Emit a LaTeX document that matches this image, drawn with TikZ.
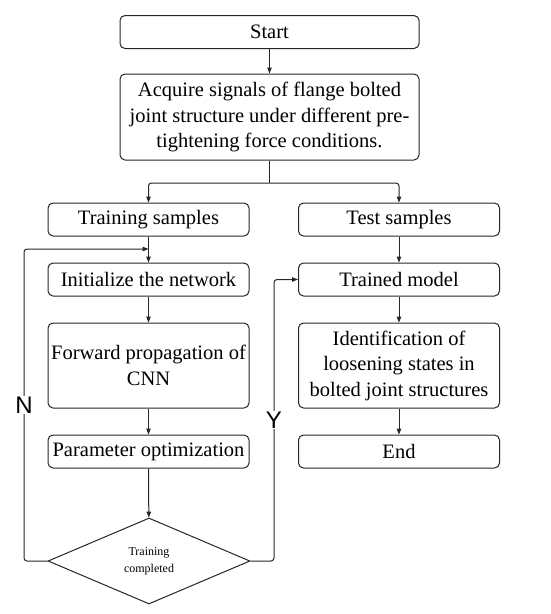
\documentclass[tikz,border=0pt]{standalone}
\usepackage{fontspec}
\setmainfont{Liberation Serif}
\newfontfamily\labelfont{Liberation Sans}
\usepackage{tikz}
\usetikzlibrary{positioning,shapes.geometric,arrows.meta}

\begin{document}
\begin{tikzpicture}[x=1pt,y=-1pt]
            \tikzstyle{every node}=[font=\fontsize{20.5}{25.5}\selectfont]
            \tikzstyle{procbox}=[draw=black!85, line width=1pt, rounded corners=5pt, align=center, inner sep=0pt]
            \tikzstyle{widebox}=[procbox, minimum width=299pt]
            \tikzstyle{halfbox}=[procbox, minimum width=201pt]
            \tikzstyle{flow}=[draw=black!85, line width=1pt, -{Triangle[length=6pt,width=4.5pt]}]
            \useasboundingbox (0,0) rectangle (550,614);
            % boxes
            \node [widebox, minimum height=33pt] (start) at (269.5,32) {Start};
            \node [widebox, minimum height=86pt] (acquire) at (269.5,117) {Acquire signals of flange bolted\\joint structure under different pre-\\tightening force conditions.};
            \node [halfbox, minimum height=33pt] (train) at (148.5,219.5) {Training samples};
            \node [halfbox, minimum height=33pt] (test) at (399,219.5) {Test samples};
            \node [halfbox, minimum height=33pt] (init) at (148.5,279.5) {Initialize the network};
            \node [halfbox, minimum height=33pt] (trained) at (399,279.5) {Trained model};
            \node [halfbox, minimum height=85pt] (forward) at (148.5,365.5) {Forward propagation of\\CNN};
            \node [halfbox, minimum height=85pt] (ident) at (399,365.5) {Identification of\\loosening states in\\bolted joint structures};
            \node [halfbox, minimum height=33pt] (param) at (148.5,451.5) {Parameter optimization};
            \node [halfbox, minimum height=33pt] (end) at (399,451.5) {End};
            \node [diamond, draw=black!85, line width=1pt, minimum width=202pt, minimum height=86pt, inner sep=0pt, align=center, font=\fontsize{12}{17}\selectfont] (check) at (149,561) {Training\\completed};
            % connectors
            \coordinate (split) at (269.5,183);
            \coordinate (loopin) at (148.5,249);
            \coordinate (nside) at (24,249);
            \coordinate (yside) at (274,279.5);
            \draw [flow] (start) -- (acquire);
            \draw [draw=black!85, line width=1pt] (acquire) -- (split);
            \draw [flow, rounded corners=3pt] (split) -| (train);
            \draw [flow, rounded corners=3pt] (split) -| (test);
            \draw [flow] (train) -- (init);
            \draw [flow] (init) -- (forward);
            \draw [flow] (forward) -- (param);
            \draw [flow] (param) -- (check);
            \draw [flow] (test) -- (trained);
            \draw [flow] (trained) -- (ident);
            \draw [flow] (ident) -- (end);
            \draw [flow, rounded corners=3pt] (check.west) -| (nside) -- (loopin);
            \draw [flow, rounded corners=3pt] (check.east) -| (yside) -- (trained.west);
            \node [font=\labelfont\fontsize{24}{24}\selectfont, fill=white, inner sep=1pt] (nlabel) at (24,405) {N};
            \node [font=\labelfont\fontsize{24}{24}\selectfont, fill=white, inner sep=1pt] (ylabel) at (274,420) {Y};
        \end{tikzpicture}
\end{document}
